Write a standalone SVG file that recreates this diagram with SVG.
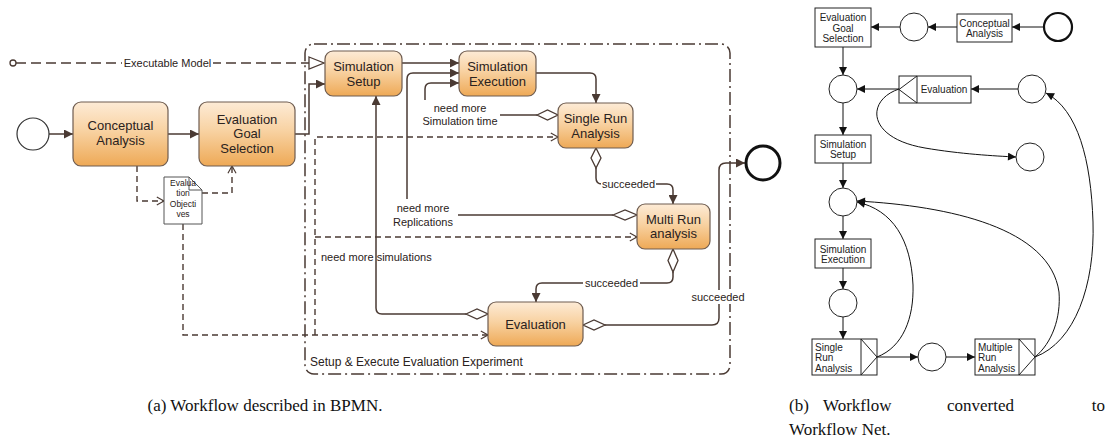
<svg xmlns="http://www.w3.org/2000/svg" width="1110" height="446" viewBox="0 0 1110 446">
<defs>
<linearGradient id="tg" x1="0" y1="0" x2="0" y2="1">
<stop offset="0" stop-color="#fdebd6"/>
<stop offset="0.45" stop-color="#f8d2a2"/>
<stop offset="1" stop-color="#eea956"/>
</linearGradient>
<marker id="af" viewBox="0 0 10 10" refX="10" refY="5" markerWidth="10" markerHeight="9" markerUnits="userSpaceOnUse" orient="auto">
<path d="M0,0 L10,5 L0,10 z" fill="#4a3a33"/>
</marker>
<marker id="ov" viewBox="0 0 10 10" refX="9" refY="5" markerWidth="9" markerHeight="9" markerUnits="userSpaceOnUse" orient="auto" overflow="visible">
<path d="M1,0.5 L9,5 L1,9.5" fill="none" stroke="#4a3a33" stroke-width="1.3"/>
</marker>
<marker id="pa" viewBox="0 0 10 10" refX="10" refY="5" markerWidth="9" markerHeight="8" markerUnits="userSpaceOnUse" orient="auto">
<path d="M0,0 L10,5 L0,10 z" fill="#111"/>
</marker>
<style>
.task{fill:url(#tg);stroke:#6e5c50;stroke-width:1.2}
.lbl{font-family:"Liberation Sans",Arial,sans-serif;fill:#2a2220}
.t13{font-size:13px;text-anchor:middle}
.t11{font-size:11px}
.c{fill:none;stroke:#4a3a33;stroke-width:1.5}
.d{fill:none;stroke:#4a3a33;stroke-width:1.4;stroke-dasharray:6 4}
.dia{fill:#fff;stroke:#4a3a33;stroke-width:1.3}
.wb{fill:#fff}
.pt{fill:#fff;stroke:#222;stroke-width:1}
.pl{fill:#fff;stroke:#222;stroke-width:1}
.pc{fill:none;stroke:#111;stroke-width:1}
.pn{font-family:"Liberation Sans",Arial,sans-serif;font-size:10px;fill:#222}
.cap{font-family:"Liberation Serif","Times New Roman",serif;font-size:17px;fill:#111}
</style>
</defs>
<rect width="1110" height="446" fill="#fff"/>

<!-- pool -->
<g id="pool">
<rect x="305" y="44" width="425" height="330" rx="9" fill="none" stroke="#4a3a33" stroke-width="1.5" stroke-dasharray="13 4 2 4"/>
<text class="lbl" x="310" y="366" font-size="12">Setup &amp; Execute Evaluation Experiment</text>
</g>

<!-- connectors -->
<g id="connectors">
<!-- executable model -->
<path d="M16,63 H309" fill="none" stroke="#4a3a33" stroke-width="1.4" stroke-dasharray="10 5"/>
<circle cx="13" cy="63" r="3" fill="#fff" stroke="#4a3a33" stroke-width="1.3"/>
<polygon points="309,57 324,63 309,69" fill="#fff" stroke="#4a3a33" stroke-width="1.3"/>
<rect class="wb" x="122" y="56" width="91" height="14"/>
<text class="lbl t11" x="167.5" y="67" text-anchor="middle">Executable Model</text>

<path class="c" d="M49,134 H73" marker-end="url(#af)"/>
<path class="c" d="M168,134 H199" marker-end="url(#af)"/>
<path class="c" d="M295,134 H309 V84 H325" marker-end="url(#af)"/>
<path class="c" d="M402,63 H459" marker-end="url(#af)"/>
<path class="c" d="M407,199 V79 Q407,73 413,73 H459" marker-end="url(#af)"/>
<path class="c" d="M425,100 V89 Q425,83 431,83 H459" marker-end="url(#af)"/>
<path class="c" d="M536,73 H590 Q596,73 596,79 V103" marker-end="url(#af)"/>
<!-- SRA -> sim exec (need more sim time) -->
<path class="c" d="M537,115 H500"/>
<polygon class="dia" points="537,115 547.5,110 558,115 547.5,120"/>
<text class="lbl t11" x="460" y="112" text-anchor="middle">need more</text>
<text class="lbl t11" x="460" y="125" text-anchor="middle">Simulation time</text>
<!-- SRA -> MRA succeeded -->
<path class="c" d="M596,168 V178 Q596,184 602,184 H667 Q673,184 673,190 V204" marker-end="url(#af)"/>
<polygon class="dia" points="596,148 601,158 596,168 591,158"/>
<rect class="wb" x="601" y="177" width="55" height="14"/>
<text class="lbl t11" x="628.5" y="188" text-anchor="middle">succeeded</text>
<!-- MRA -> replications -->
<path class="c" d="M613,215 H458"/>
<polygon class="dia" points="613,215 625,210 637,215 625,220"/>
<text class="lbl t11" x="423" y="212" text-anchor="middle">need more</text>
<text class="lbl t11" x="423" y="226" text-anchor="middle">Replications</text>
<!-- MRA -> Evaluation -->
<path class="c" d="M673,272 V277 Q673,283 667,283 H542 Q536,283 536,289 V302" marker-end="url(#af)"/>
<polygon class="dia" points="673,249 678,260.5 673,272 668,260.5"/>
<rect class="wb" x="583" y="276" width="57" height="14"/>
<text class="lbl t11" x="611.5" y="287" text-anchor="middle">succeeded</text>
<!-- Evaluation -> Sim Setup -->
<path class="c" d="M466,314 H382 Q376,314 376,308 V96" marker-end="url(#af)"/>
<polygon class="dia" points="466,314 477,309 488,314 477,319"/>
<text class="lbl t11" x="321" y="261">need more simulations</text>
<!-- Evaluation -> end -->
<path class="c" d="M605,325 H712 Q719,325 719,318 V170 Q719,163 726,163 H745" marker-end="url(#af)"/>
<polygon class="dia" points="583,325 594,320 605,325 594,330"/>
<rect class="wb" x="690" y="290" width="56" height="14"/>
<text class="lbl t11" x="718" y="301" text-anchor="middle">succeeded</text>

<!-- data associations -->
<path class="d" d="M137,166 V201 H164" marker-end="url(#ov)"/>
<path class="d" d="M202,193 H232 V166" marker-end="url(#ov)"/>
<path class="d" d="M183,224 V335 H488" marker-end="url(#ov)"/>
<path class="d" d="M315,335 V137 H558" marker-end="url(#ov)"/>
<path class="d" d="M315,237 H637" marker-end="url(#ov)"/>
</g>

<!-- BPMN nodes -->
<g id="start"><circle cx="33" cy="134" r="16" fill="#fff" stroke="#333" stroke-width="1.2"/></g>
<g id="conceptual-analysis"><rect class="task" x="73" y="102" width="95" height="64" rx="8"/>
<text class="lbl t13" x="120.5" y="130">Conceptual</text><text class="lbl t13" x="120.5" y="145">Analysis</text></g>
<g id="eval-goal-selection"><rect class="task" x="199" y="102" width="96" height="64" rx="8"/>
<text class="lbl t13" x="247" y="123.5">Evaluation</text><text class="lbl t13" x="247" y="138">Goal</text><text class="lbl t13" x="247" y="152.5">Selection</text></g>
<g id="eval-objectives">
<path d="M164,177 H189 L202,190 V224 H164 Z" fill="#fff" stroke="#555" stroke-width="1"/>
<path d="M189,177 V190 H202" fill="none" stroke="#555" stroke-width="1"/>
<g class="lbl" font-size="8.5" text-anchor="middle"><text x="183" y="186">Evalua</text><text x="183" y="196">tion</text><text x="183" y="207">Objecti</text><text x="183" y="217">ves</text></g>
</g>
<g id="sim-setup"><rect class="task" x="325" y="51" width="77" height="45" rx="8"/>
<text class="lbl t13" x="363.5" y="70.5">Simulation</text><text class="lbl t13" x="363.5" y="85.5">Setup</text></g>
<g id="sim-exec"><rect class="task" x="459" y="51" width="77" height="45" rx="8"/>
<text class="lbl t13" x="497.5" y="70.5">Simulation</text><text class="lbl t13" x="497.5" y="85.5">Execution</text></g>
<g id="single-run"><rect class="task" x="558" y="103" width="75" height="45" rx="8"/>
<text class="lbl t13" x="595.5" y="122.5">Single Run</text><text class="lbl t13" x="595.5" y="137.5">Analysis</text></g>
<g id="multi-run"><rect class="task" x="637" y="204" width="73" height="45" rx="8"/>
<text class="lbl t13" x="673.5" y="223.5">Multi Run</text><text class="lbl t13" x="673.5" y="238">analysis</text></g>
<g id="evaluation"><rect class="task" x="488" y="302" width="95" height="44" rx="8"/>
<text class="lbl t13" x="535.5" y="328.5">Evaluation</text></g>
<g id="end"><circle cx="763" cy="163" r="17" fill="#fff" stroke="#111" stroke-width="3"/></g>

<!-- Petri net connectors -->
<g id="petri-connectors">
<path class="pc" d="M1044,27 H1012" marker-end="url(#pa)"/>
<path class="pc" d="M957,27 H928" marker-end="url(#pa)"/>
<path class="pc" d="M900,27 H871" marker-end="url(#pa)"/>
<path class="pc" d="M843,47 V75" marker-end="url(#pa)"/>
<path class="pc" d="M899,89 H857" marker-end="url(#pa)"/>
<path class="pc" d="M1018,89 H971" marker-end="url(#pa)"/>
<path class="pc" d="M899,89 C866,100 866,138 925,148 C960,154 995,156 1016,157" marker-end="url(#pa)"/>
<path class="pc" d="M843,103 V135" marker-end="url(#pa)"/>
<path class="pc" d="M843,163 V188" marker-end="url(#pa)"/>
<path class="pc" d="M843,216 V239" marker-end="url(#pa)"/>
<path class="pc" d="M843,268 V289" marker-end="url(#pa)"/>
<path class="pc" d="M843,317 V339" marker-end="url(#pa)"/>
<path class="pc" d="M877,357 H918" marker-end="url(#pa)"/>
<path class="pc" d="M946,357 H975" marker-end="url(#pa)"/>
<path class="pc" d="M877,357 C903,347 914,318 913,285 C911,240 893,210 857,202" marker-end="url(#pa)"/>
<path class="pc" d="M1035,357 C1052,343 1061,318 1059,292 C1050,228 950,206 857,201" marker-end="url(#pa)"/>
<path class="pc" d="M1035,357 C1075,342 1095,285 1093,222 C1091,160 1078,110 1046,93" marker-end="url(#pa)"/>
</g>

<!-- Petri net nodes -->
<g id="p-start"><circle cx="1058" cy="27" r="14" fill="#fff" stroke="#111" stroke-width="2.2"/></g>
<g id="t-ca"><rect class="pt" x="957" y="14" width="55" height="28"/>
<text class="pn" x="984.5" y="26.5" text-anchor="middle">Conceptual</text><text class="pn" x="984.5" y="37" text-anchor="middle">Analysis</text></g>
<g id="p1"><circle class="pl" cx="914" cy="27" r="14"/></g>
<g id="t-egs"><rect class="pt" x="815" y="8" width="56" height="39"/>
<text class="pn" x="843" y="20.5" text-anchor="middle">Evaluation</text><text class="pn" x="843" y="31.5" text-anchor="middle">Goal</text><text class="pn" x="843" y="42" text-anchor="middle">Selection</text></g>
<g id="p2"><circle class="pl" cx="843" cy="89" r="14"/></g>
<g id="t-eval"><rect class="pt" x="899" y="76" width="72" height="27"/>
<path d="M917,76 V103 M917,76 L899,89.5 L917,103" fill="none" stroke="#222" stroke-width="1"/>
<text class="pn" x="944" y="93" text-anchor="middle">Evaluation</text></g>
<g id="p3"><circle class="pl" cx="1032" cy="89" r="14"/></g>
<g id="p4"><circle class="pl" cx="1030" cy="157" r="14"/></g>
<g id="t-setup"><rect class="pt" x="815" y="135" width="56" height="28"/>
<text class="pn" x="843" y="147.5" text-anchor="middle">Simulation</text><text class="pn" x="843" y="158" text-anchor="middle">Setup</text></g>
<g id="p5"><circle class="pl" cx="843" cy="202" r="14"/></g>
<g id="t-exec"><rect class="pt" x="815" y="239" width="56" height="29"/>
<text class="pn" x="843" y="252.5" text-anchor="middle">Simulation</text><text class="pn" x="843" y="263" text-anchor="middle">Execution</text></g>
<g id="p6"><circle class="pl" cx="843" cy="303" r="14"/></g>
<g id="t-sra"><rect class="pt" x="812" y="339" width="65" height="36"/>
<path d="M861,339 V375 M861,339 L877,357 L861,375" fill="none" stroke="#222" stroke-width="1"/>
<text class="pn" x="815" y="350.5" font-size="9.5">Single</text><text class="pn" x="815" y="361" font-size="9.5">Run</text><text class="pn" x="815" y="371.5" font-size="9.5">Analysis</text></g>
<g id="p7"><circle class="pl" cx="932" cy="357" r="14"/></g>
<g id="t-mra"><rect class="pt" x="975" y="339" width="60" height="36"/>
<path d="M1019,339 V375 M1019,339 L1035,357 L1019,375" fill="none" stroke="#222" stroke-width="1"/>
<text class="pn" x="978" y="350.5" font-size="9.5">Multiple</text><text class="pn" x="978" y="361" font-size="9.5">Run</text><text class="pn" x="978" y="371.5" font-size="9.5">Analysis</text></g>

<!-- captions -->
<text class="cap" x="265" y="411" text-anchor="middle">(a) Workflow described in BPMN.</text>
<text class="cap" x="789" y="411">(b)</text>
<text class="cap" x="823" y="411">Workflow</text>
<text class="cap" x="947" y="411">converted</text>
<text class="cap" x="1105" y="411" text-anchor="end">to</text>
<text class="cap" x="789" y="435">Workflow Net.</text>
</svg>
